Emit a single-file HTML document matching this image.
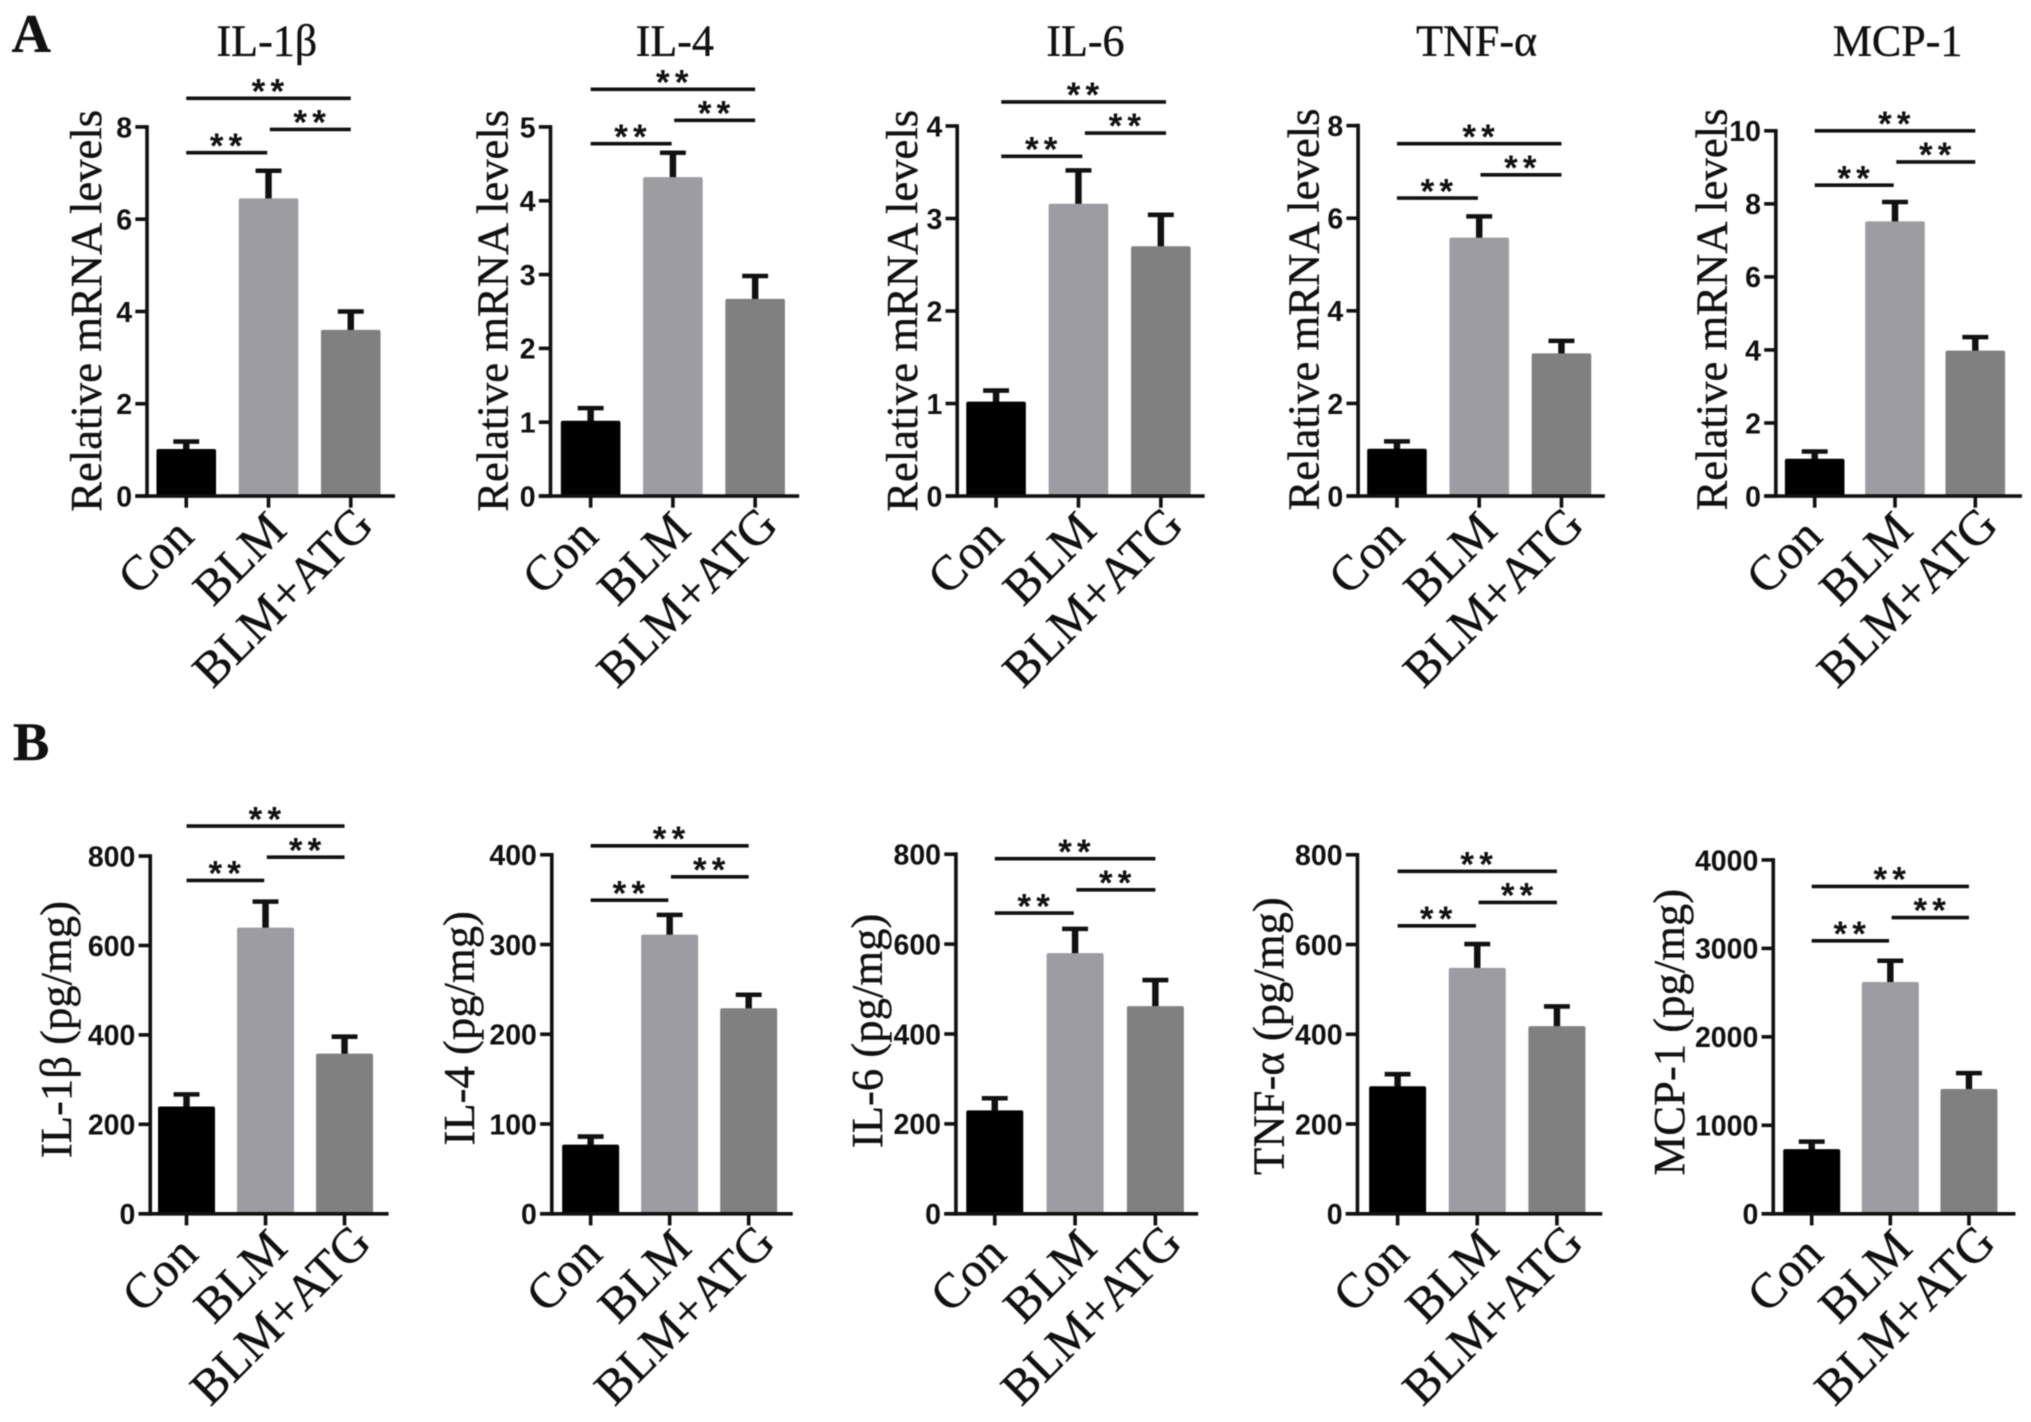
<!DOCTYPE html>
<html lang="en">
<head>
<meta charset="utf-8">
<title>Relative mRNA levels and cytokine protein levels</title>
<style>
html,body{margin:0;padding:0;background:#fff;}
svg{display:block;filter:blur(.5px);}
text{fill:#111;}
.serif{font-family:"Liberation Serif","Noto Serif CJK SC",serif;stroke:#111;stroke-width:.3px;}
.sans{font-family:"Liberation Sans","Noto Sans CJK SC",sans-serif;}
</style>
</head>
<body>
<svg id="figure" xmlns="http://www.w3.org/2000/svg" width="2031" height="1422" viewBox="0 0 1568 1098" preserveAspectRatio="none">
  <rect x="0" y="0" width="1568" height="1098" fill="#fff"/>
  <text class="serif" x="9" y="40" font-size="42" font-weight="bold">A</text>
  <text class="serif" x="10" y="587" font-size="42" font-weight="bold">B</text>
</svg>
<script>
// ---- data ----
const categories = ["Con", "BLM", "BLM+ATG"];
const barColors = ["#000000", "#9c9ca1", "#808080"];
const cytokines = ["IL-1β", "IL-4", "IL-6", "TNF-α", "MCP-1"];

const mrnaTicks = [[0,2,4,6,8],[0,1,2,3,4,5],[0,1,2,3,4],[0,2,4,6,8],[0,2,4,6,8,10]];
const mrnaMeans = [[1.02,6.45,3.6],[1.02,4.32,2.67],[1.02,3.16,2.7],[1.02,5.58,3.08],[1.02,7.52,3.98]];
const mrnaErrors = [[0.16,0.6,0.4],[0.17,0.33,0.31],[0.12,0.36,0.34],[0.16,0.46,0.27],[0.2,0.53,0.37]];
const mrnaBracketLevels = [8.62,5.51,4.26,7.61,10.0];

const proteinTicks = [[0,200,400,600,800],[0,100,200,300,400],[0,200,400,600,800],[0,200,400,600,800],[0,1000,2000,3000,4000]];
const proteinMeans = [[240,640,358],[77,311,229],[230,580,462],[284,548,418],[730,2620,1410]];
const proteinErrors = [[27,58,38],[9,22,15],[27,54,58],[27,53,44],[85,240,180]];
const proteinBracketLevels = [867,410,790,763,3700];

// ---- layout (not data) ----
const rowA = {
  bottom:383, barW:46, fontY:34.5, labelShift:-1.5,
  axisX:[113.5,425,739,1048.5,1371], top:[98,98,97.3,97,101],
  first:[143.8,456,769,1078.5,1401], step:[63.5,63.5,63.6,63.5,62],
  end:[305,617,930,1239,1561], bracketShift:[0,0,4,0,0],
  titleX:[78,392,708,1018,1333], titleY:[240,240,240,239,239]
};
const rowB = {
  bottom:937.2, barW:44, fontY:34.5, labelShift:1.5,
  axisX:[116,426,738,1048,1369], top:[661,660,659.6,660,664],
  first:[144,456,768,1079,1398.7], step:[61,61,62,61.5,60.7],
  end:[300,612,925,1237,1556], bracketShift:[0,0,0,0,0],
  titleX:[55,366,681,991,1300], titleY:[795,794,796,800,797]
};
const headingX = [206,521,838,1140,1465];
const labelDx = [9,17,20.5];
const labelDy = [33,28,24];

// ---- helpers ----
const svg = document.getElementById('figure');
const NS = 'http://www.w3.org/2000/svg';
function mk(tag, attrs, parent){
  const el = document.createElementNS(NS, tag);
  for (const k in attrs) el.setAttribute(k, attrs[k]);
  parent.appendChild(el);
  return el;
}
function yScale(row, i, maxV, v){
  return row.bottom - (v / maxV) * (row.bottom - row.top[i]);
}
function xScale(row, i, k){
  return row.first[i] + row.step[i] * k;
}
function line(x1,y1,x2,y2,w,parent){
  return mk('line',{x1:x1,y1:y1,x2:x2,y2:y2,stroke:'#111',"stroke-width":w},parent);
}

function drawPanel(row, i, ticks, means, errors, level, yTitle, slug){
  const maxV = ticks[ticks.length-1];
  const ax = row.axisX[i];
  const g = mk('g',{},svg);
  
  

  // bars and error bars
  means.forEach(function(v,k){
    const cx = xScale(row,i,k);
    const top = yScale(row,i,maxV,v);
    const cap = yScale(row,i,maxV,v+errors[k]);
    const stem = line(cx,top+2,cx,cap,5,g);
    
    
    const capLine = line(cx-10,cap,cx+10,cap,3.5,g);
    
    
    const bar = mk('rect',{x:cx-row.barW/2,y:top,width:row.barW,height:row.bottom-top,fill:barColors[k],rx:1.5},g);
    
    
  });

  // y axis
  const yAxis = line(ax,row.top[i]-1.4,ax,row.bottom+1.4,2.8,g);
  
  
  ticks.forEach(function(t){
    const y = yScale(row,i,maxV,t);
    const tk = line(ax-9,y,ax,y,2.8,g);
    
    
    const lbl = mk('text',{x:ax-11.5,y:y+8,'text-anchor':'end','font-size':22,'font-weight':'bold','class':'sans'},g);
    lbl.textContent = t;
    
    
  });

  // x axis
  const xAxis = line(ax-9,row.bottom,row.end[i],row.bottom,2.8,g);
  
  
  categories.forEach(function(c,k){
    const cx = xScale(row,i,k);
    const tk = line(cx,row.bottom,cx,row.bottom+9,2.8,g);
    
    
    const px = cx + labelDx[k] + row.labelShift, py = row.bottom + labelDy[k];
    const lbl = mk('text',{x:px,y:py,'text-anchor':'end','font-size':38,'class':'serif',transform:'rotate(-45 '+px+' '+py+')'},g);
    lbl.textContent = c;
    
    
  });

  // y title
  const tx = row.titleX[i], ty = row.titleY[i];
  const title = mk('text',{x:tx,y:ty,'text-anchor':'middle','font-size':row.fontY,'class':'serif',transform:'rotate(-90 '+tx+' '+ty+')'},g);
  title.textContent = yTitle;
  
  

  // significance brackets
  const shift = row.bracketShift[i];
  const c0 = xScale(row,i,0) + shift, c1 = xScale(row,i,1) + shift, c2 = xScale(row,i,2) + shift;
  const yLong = yScale(row,i,maxV,level);
  [[c0,c2,yLong],[c0,c1-1,yLong+42],[c1+1,c2,yLong+24]].forEach(function(b){
    const br = line(b[0],b[2],b[1],b[2],2.8,g);
    
    
    const mid = (b[0]+b[1])/2;
    const st = mk('text',{x:mid+1.5,y:b[2]+4,'text-anchor':'middle','font-size':27,'font-weight':'bold','letter-spacing':'4','class':'sans'},g);
    st.textContent = '**';
    
    
  });
}

cytokines.forEach(function(name,i){
  const h = mk('text',{x:headingX[i],y:43,'text-anchor':'middle','font-size':34,'class':'serif'},svg);
  h.textContent = name;
  
  
  drawPanel(rowA,i,mrnaTicks[i],mrnaMeans[i],mrnaErrors[i],mrnaBracketLevels[i],'Relative mRNA levels','mrna-'+i);
  drawPanel(rowB,i,proteinTicks[i],proteinMeans[i],proteinErrors[i],proteinBracketLevels[i],name+' (pg/mg)','protein-'+i);
});
</script>
</body>
</html>
